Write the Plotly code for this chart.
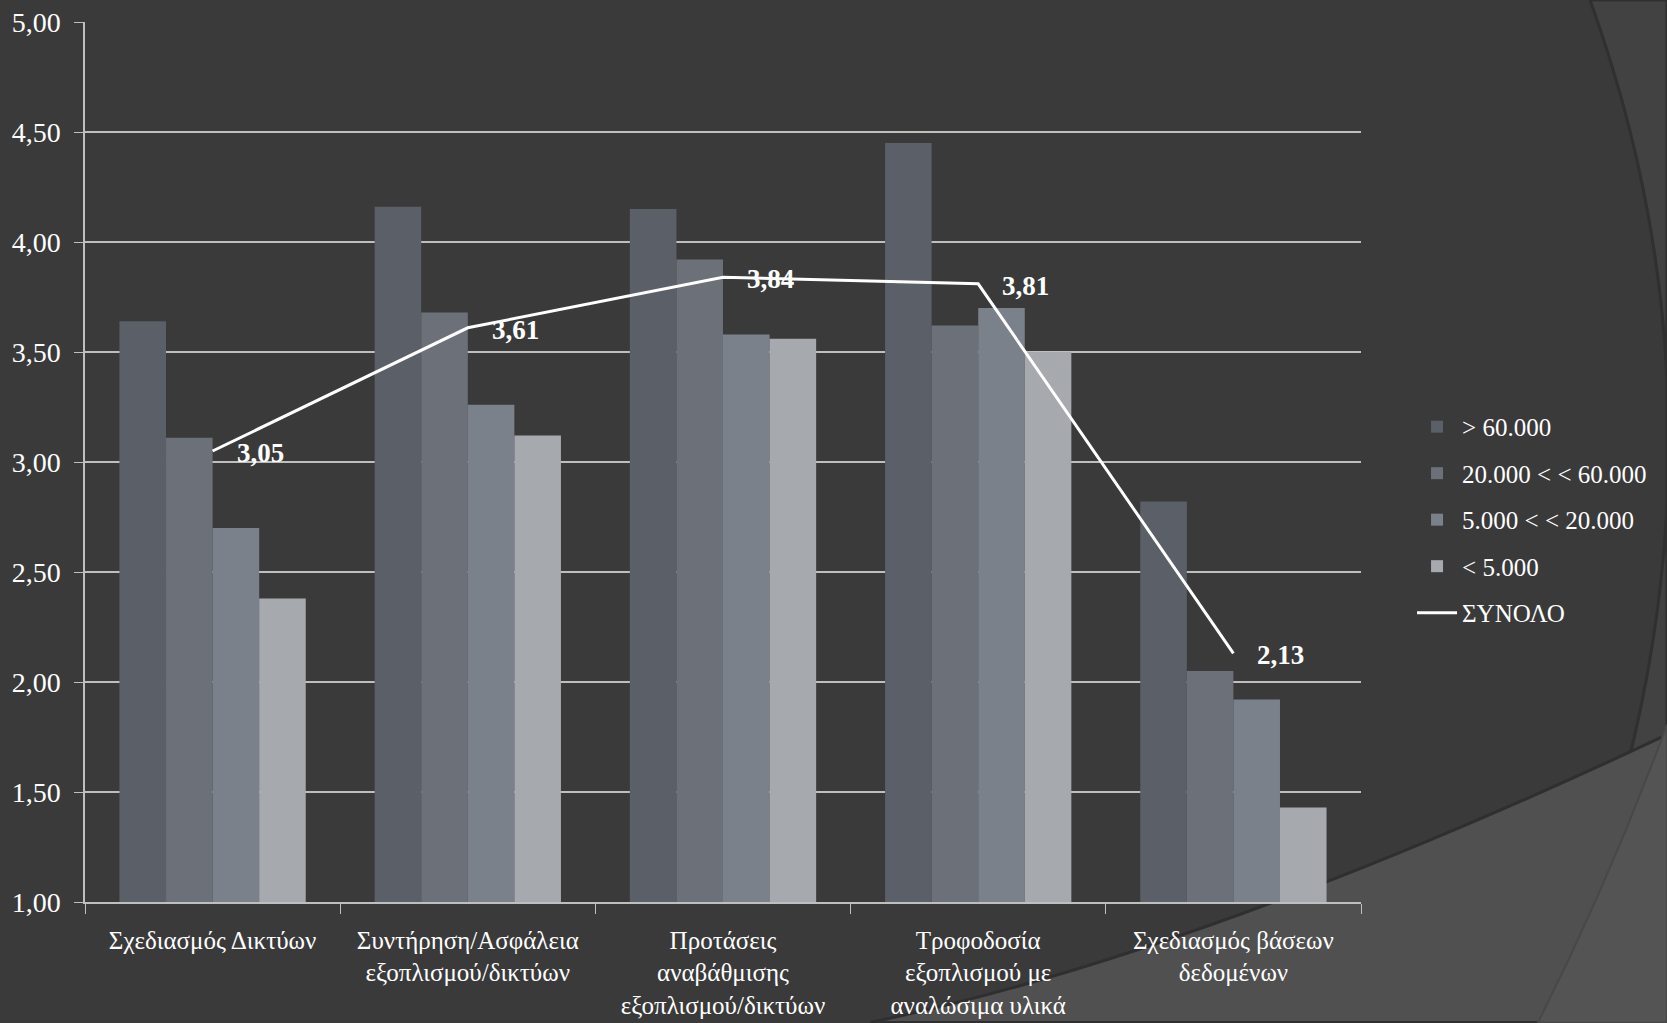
import plotly.graph_objects as go

categories = ["Σχεδιασμός Δικτύων",
              "Συντήρηση/Ασφάλεια<br>εξοπλισμού/δικτύων",
              "Προτάσεις<br>αναβάθμισης<br>εξοπλισμού/δικτύων",
              "Τροφοδοσία<br>εξοπλισμού με<br>αναλώσιμα υλικά",
              "Σχεδιασμός βάσεων<br>δεδομένων"]

over_60k = [3.64, 4.16, 4.15, 4.45, 2.82]
from_20k_to_60k = [3.11, 3.68, 3.92, 3.62, 2.05]
from_5k_to_20k = [2.70, 3.26, 3.58, 3.70, 1.92]
under_5k = [2.38, 3.12, 3.56, 3.50, 1.43]
total = [3.05, 3.61, 3.84, 3.81, 2.13]

series_names = ["> 60.000", "20.000 < < 60.000", "5.000 < < 20.000", "< 5.000"]
series_colors = ["#5b5f67", "#6c7078", "#7b818a", "#a6a9ae"]

FONT = "Liberation Serif"
W, H = 1667, 1023
L, R, T, B = 85, 1361, 22, 902.5


def px(x, y):
    # pixel -> paper coords
    return (x - L) / (R - L), (B - y) / (B - T)


def path(cmds):
    out = []
    for c in cmds:
        op, pts = c[0], c[1:]
        s = op
        for (x, y) in pts:
            a, b = px(x, y)
            s += " %.4f,%.4f" % (a, b)
        out.append(s)
    return " ".join(out) + " Z"


fig = go.Figure()
for name, vals, col in zip(series_names, [over_60k, from_20k_to_60k, from_5k_to_20k, under_5k], series_colors):
    fig.add_trace(go.Bar(x=categories, y=vals, name=name, marker=dict(color=col, line=dict(width=0)),
                         legendgroup=name))

fig.add_trace(go.Scatter(x=categories, y=total, name="ΣΥΝΟΛΟ", mode="lines",
                         line=dict(color="white", width=3), legendgroup="total"))

for c, v in zip(categories, total):
    fig.add_annotation(x=c, y=v, text="<b>" + ("%.2f" % v).replace(".", ",") + "</b>",
                       showarrow=False, xanchor="left", yanchor="middle", xshift=22, yshift=-2,
                       font=dict(family=FONT, size=27, color="white"))

# decorative background arcs
shapes = [
    dict(type="path", xref="paper", yref="paper", layer="below",
         path=path([("M", (1590, 0)), ("Q", (1770, 500), (1538, 1023)), ("L", (1667, 1023)), ("L", (1667, 0))]),
         fillcolor="#424242", line=dict(color="#303030", width=3)),
    dict(type="path", xref="paper", yref="paper", layer="below",
         path=path([("M", (870, 1023)), ("Q", (1200, 955), (1667, 735)), ("L", (1667, 1023))]),
         fillcolor="#505050", line=dict(color="#2f2f2f", width=3)),
    dict(type="path", xref="paper", yref="paper", layer="below",
         path=path([("M", (1667, 725)), ("Q", (1610, 880), (1538, 1023)), ("L", (1667, 1023))]),
         fillcolor="#545454", line=dict(color="#484848", width=2)),
]

fig.update_layout(
    width=W, height=H,
    margin=dict(l=L, r=W - R, t=T, b=H - B, pad=0, autoexpand=False),
    paper_bgcolor="#3a3a3a", plot_bgcolor="rgba(0,0,0,0)",
    font=dict(family=FONT, size=27, color="white"),
    separators=",.",
    barmode="group", bargap=0.27, bargroupgap=0,
    shapes=shapes,
    legend=dict(x=1.04, xanchor="left", y=0.566, yanchor="top", tracegroupgap=11,
                font=dict(family=FONT, size=25, color="white"), bgcolor="rgba(0,0,0,0)",
                itemwidth=40),
    showlegend=True,
)
fig.update_yaxes(range=[1, 5], dtick=0.5, tickformat=".2f", showgrid=True, gridcolor="#bfbfbf", gridwidth=1.5,
                 showline=True, linecolor="#bfbfbf", linewidth=1.5, ticks="outside", ticklen=9,
                 tickcolor="#bfbfbf", ticklabelstandoff=8, automargin=False,
                 tickfont=dict(family=FONT, size=28, color="white"), zeroline=False)
fig.update_xaxes(showline=True, linecolor="#bfbfbf", linewidth=1.5, ticks="outside", ticklen=10,
                 tickcolor="#bfbfbf", tickson="boundaries", ticklabelstandoff=15, automargin=False,
                 tickfont=dict(family=FONT, size=25, color="white"), tickangle=0)

fig.write_html("out.html", config={"displayModeBar": False},
               post_script="document.body.style.margin='0';document.body.style.background='#3a3a3a';")
